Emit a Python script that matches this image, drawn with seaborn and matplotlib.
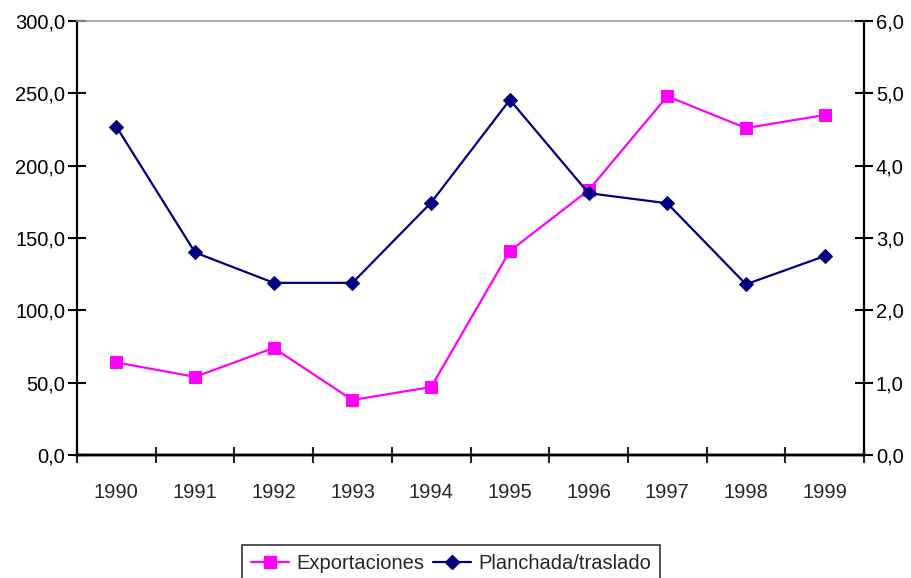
import matplotlib
matplotlib.use("Agg")
import matplotlib.pyplot as plt
import seaborn as sns
import pandas as pd
import numpy as np
from matplotlib.lines import Line2D
from matplotlib import font_manager

years = ["1990", "1991", "1992", "1993", "1994", "1995", "1996", "1997", "1998", "1999"]
exportaciones = [64, 54, 74, 38, 47, 141, 183, 248, 226, 235]
planchada = [4.54, 2.80, 2.38, 2.38, 3.49, 4.91, 3.62, 3.48, 2.36, 2.75]

sns.set_style("white")

def has_font(name):
    try:
        font_manager.findfont(font_manager.FontProperties(family=name), fallback_to_default=False)
        return True
    except Exception:
        return False

if has_font('Liberation Sans Narrow'):
    fam, fs = 'Liberation Sans Narrow', 17
else:
    fam, fs = 'Liberation Sans', 14.5
plt.rcParams['font.family'] = [fam, 'DejaVu Sans']

fig = plt.figure(figsize=(9.11, 5.78), dpi=100)
ax = fig.add_axes([77/911, 1-455/578, (864-77)/911, (455-21)/578])
ax2 = ax.twinx()

x = np.arange(len(years))
df = pd.DataFrame({"x": x, "exp": exportaciones, "pla": planchada})

pink = "#FF00FF"
navy = "#000080"
sns.lineplot(data=df, x="x", y="exp", ax=ax, color=pink, marker="s", markersize=8.5,
             markeredgecolor=pink, markerfacecolor=pink, linewidth=1.6)
sns.lineplot(data=df, x="x", y="pla", ax=ax2, color=navy, marker="D", markersize=7,
             markeredgecolor=navy, markerfacecolor=navy, linewidth=1.6)

for a in (ax, ax2):
    a.set_xlim(-0.5, len(years) - 0.5)
    a.set_xlabel("")
    a.set_ylabel("")
    for s in a.spines.values():
        s.set_visible(False)

ax.set_ylim(0, 300)
ax2.set_ylim(0, 6)
ax.set_yticks(np.arange(0, 301, 50))
ax.set_yticklabels([f"{v:.1f}".replace(".", ",") for v in np.arange(0, 301, 50)])
ax2.set_yticks(np.arange(0, 7, 1))
ax2.set_yticklabels([f"{v:.1f}".replace(".", ",") for v in np.arange(0, 7, 1)])

ax.set_xticks(x)
ax.set_xticklabels(years)
ax.set_xticks(np.arange(-0.5, len(years)), minor=True)

ax.spines['left'].set_visible(True)
ax.spines['left'].set_color('black')
ax.spines['left'].set_linewidth(1.6)
ax.spines['bottom'].set_visible(True)
ax.spines['bottom'].set_color('black')
ax.spines['bottom'].set_linewidth(1.6)
ax.spines['top'].set_visible(True)
ax.spines['top'].set_color('#999999')
ax.spines['top'].set_linewidth(1.2)
ax2.spines['right'].set_visible(True)
ax2.spines['right'].set_color('black')
ax2.spines['right'].set_linewidth(1.6)

ax.axhline(0, color="#AAAAAA", linewidth=3, zorder=0, clip_on=False)

ax.tick_params(axis='y', which='major', direction='inout', length=13, width=1.5,
               labelsize=fs, colors='black', pad=2, left=True)
ax2.tick_params(axis='y', which='major', direction='inout', length=13, width=1.5,
                labelsize=fs, colors='black', pad=2, right=True)
ax.tick_params(axis='x', which='major', length=0, labelsize=fs, pad=20, bottom=True)
ax.tick_params(axis='x', which='minor', direction='inout', length=12, width=1.5, bottom=True)

handles = [
    Line2D([0], [0], color=pink, marker="s", markersize=8.5, linewidth=1.6),
    Line2D([0], [0], color=navy, marker="D", markersize=7, linewidth=1.6),
]
leg = fig.legend(handles, ["Exportaciones", "Planchada/traslado"], loc="upper center",
                 bbox_to_anchor=(451/911, 1-545/578), ncol=2, frameon=True,
                 fancybox=False, edgecolor="black", fontsize=fs, handlelength=1.9,
                 columnspacing=0.4, handletextpad=0.35, borderpad=0.45, borderaxespad=0)
leg.get_frame().set_linewidth(1.2)

fig.savefig("out.png", dpi=100)
